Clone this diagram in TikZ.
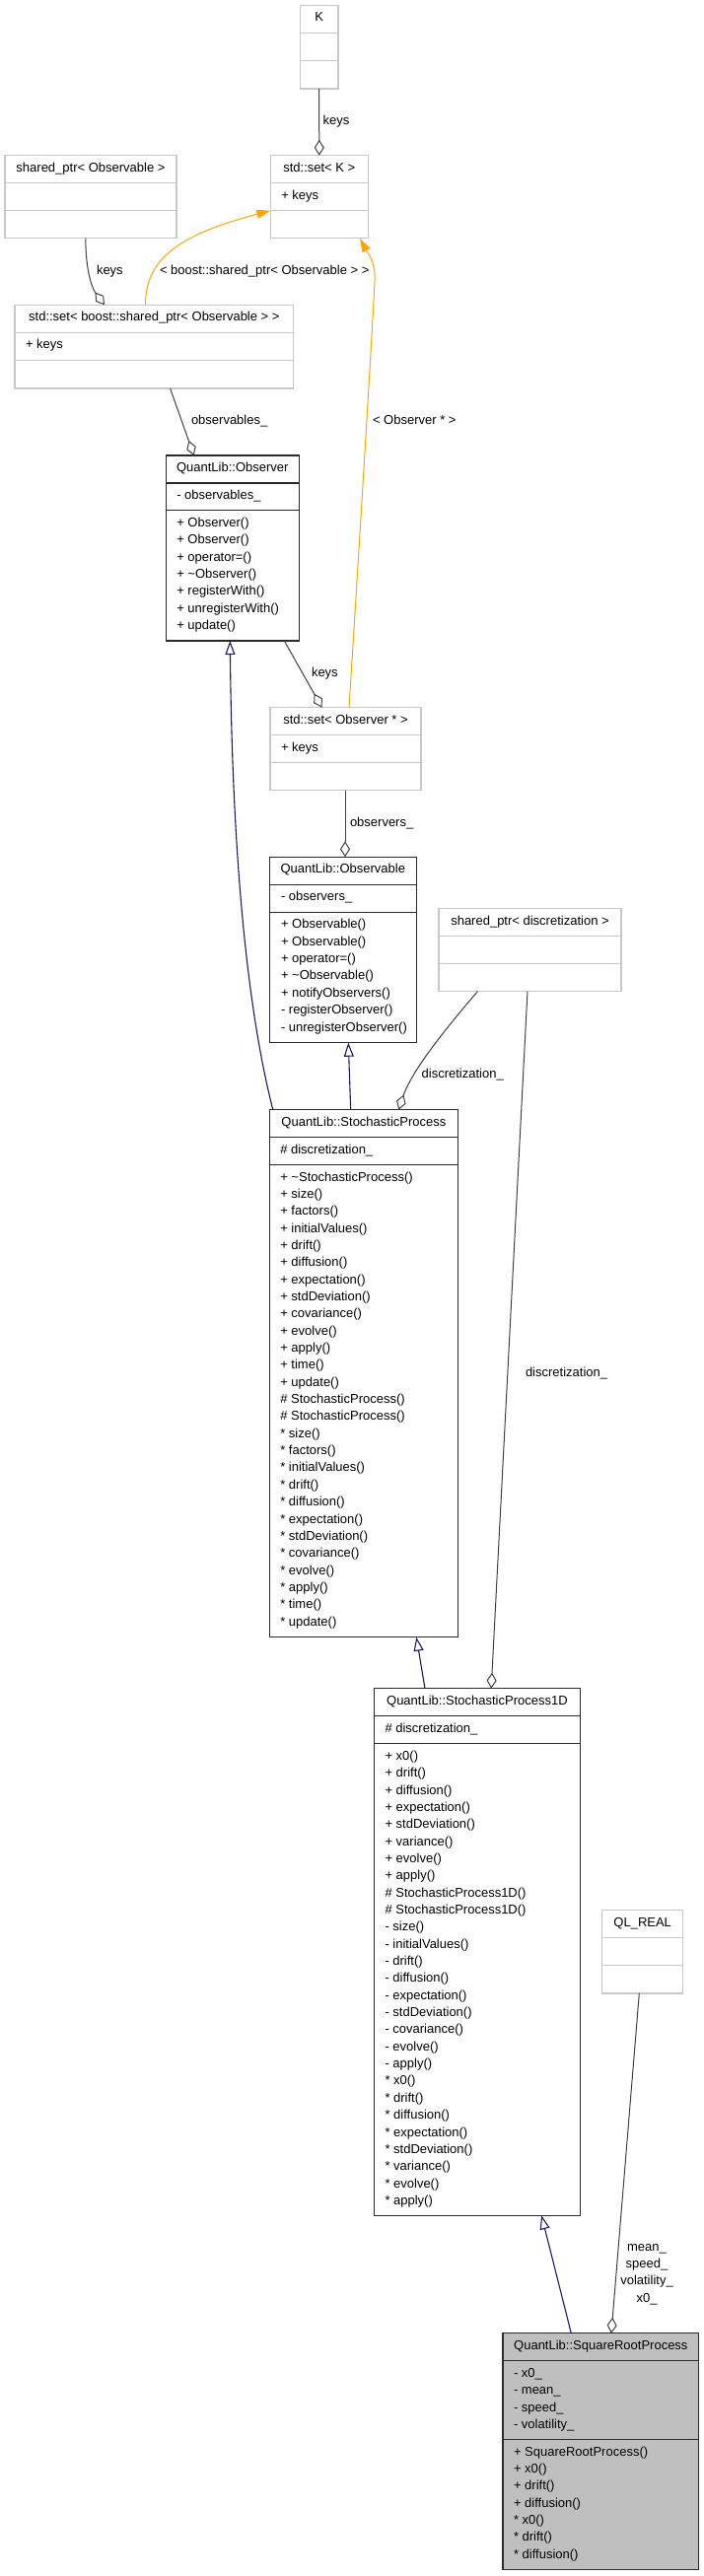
\documentclass[tikz,border=0pt]{standalone}
\usepackage{fontspec}
\setmainfont{Liberation Sans}
\usetikzlibrary{arrows.meta,calc}
\definecolor{boxgray}{HTML}{BFBFBF}
\definecolor{lightframe}{HTML}{C8C8C8}
\definecolor{edgegray}{HTML}{404040}
\definecolor{inhblue}{HTML}{191970}
\definecolor{tmplorange}{HTML}{FFA500}
\definecolor{framedark}{HTML}{2A2A2A}
\tikzset{
  txt/.style={inner sep=0pt, outer sep=0pt, font=\fontsize{13pt}{15pt}\selectfont, text=black},
  gbox/.style={draw=lightframe, line width=1.3pt, fill=white, inner sep=0pt, outer sep=0pt},
  gbox sep/.style={draw=lightframe, line width=1.3pt},
  kbox/.style={draw=framedark, line width=1.4pt, fill=white, inner sep=0pt, outer sep=0pt},
  kbox sep/.style={draw=framedark, line width=1.4pt},
  fillbox/.style={draw=framedark, line width=1.4pt, fill=boxgray, inner sep=0pt, outer sep=0pt},
  fillbox sep/.style={draw=framedark, line width=1.4pt},
  aggr/.style={draw=edgegray, line width=1pt, -{Diamond[fill=white, length=16pt, width=10pt]}},
  inh/.style={draw=inhblue, line width=1.1pt, -{Triangle[fill=white, length=14pt, width=10pt]}},
  tmpl/.style={draw=tmplorange, line width=1pt, -{Triangle[length=14pt, width=9pt]}},
  elabel/.style={txt, anchor=base west},
}
% name, style, x, y, width, attr height, method height, header
\newcommand\umlcls[8]{%
  \node[#2, anchor=north west, minimum width=#5pt, minimum height={(28+#6+#7)*1pt}] (#1) at (#3,#4) {};
  \draw[#2 sep] (#3,#4+28) -- (#3+#5,#4+28);
  \draw[#2 sep] (#3,#4+28+#6) -- (#3+#5,#4+28+#6);
  \node[txt, anchor=base] (#1-h) at ({#3+#5/2},{#4+16.6}) {#8};
}
% name prefix, x, first baseline y, list of lines
\newcommand\umllines[4]{%
  \foreach \mline [count=\mi] in {#4}{
    \node[txt, anchor=base west] (#1-\mi) at (#2,{#3+(\mi-1)*17.35}) {\mline};
  }
}
\begin{document}
\begin{tikzpicture}[x=1pt,y=-1pt]
\useasboundingbox (0,0) rectangle (713,2613);
\fill[white] (0,0) rectangle (713,2613);

% ---------- classes ----------
\umlcls{K}{gbox}{304.3}{5.3}{38.7}{28.3}{28.4}{K}

\umlcls{setK}{gbox}{274.3}{157.7}{99}{28}{28}{std::set< K >}
\umllines{setK-a}{285.3}{202.3}{+ keys}

\umlcls{spObs}{gbox}{5}{157.7}{174}{28}{28}{shared\_ptr< Observable >}

\umlcls{setSP}{gbox}{15}{309.3}{282.7}{28.3}{28.4}{std::set< boost::shared\_ptr< Observable > >}
\umllines{setSP-a}{26}{353.9}{+ keys}

\umlcls{Observer}{kbox}{168.3}{462}{135}{27.7}{132.3}{QuantLib::Observer}
\umllines{Observer-a}{179.3}{506.6}{- observables\_}
\umllines{Observer-m}{179.3}{534.3}{+ Observer(), + Observer(), + operator=(), + \textasciitilde Observer(), + registerWith(), + unregisterWith(), + update()}

\umlcls{setObs}{gbox}{274}{717.7}{153}{28}{28}{std::set< Observer * >}
\umllines{setObs-a}{285}{762.3}{+ keys}

\umlcls{Observable}{kbox}{273.3}{869.3}{149}{28}{132.4}{QuantLib::Observable}
\umllines{Observable-a}{285}{913.9}{- observers\_}
\umllines{Observable-m}{285}{941.9}{+ Observable(), + Observable(), + operator=(), + \textasciitilde Observable(), + notifyObservers(), - registerObserver(), - unregisterObserver()}

\umlcls{spDisc}{gbox}{445}{921.7}{185}{28}{28}{shared\_ptr< discretization >}

\umlcls{SP}{kbox}{273.3}{1125.7}{191.3}{27.7}{479.3}{QuantLib::StochasticProcess}
\umllines{SP-a}{284.3}{1170.3}{\# discretization\_}
\umllines{SP-m}{284.3}{1198}{+ \textasciitilde StochasticProcess(), + size(), + factors(), + initialValues(), + drift(), + diffusion(), + expectation(), + stdDeviation(), + covariance(), + evolve(), + apply(), + time(), + update(), \# StochasticProcess(), \# StochasticProcess(), * size(), * factors(), * initialValues(), * drift(), * diffusion(), * expectation(), * stdDeviation(), * covariance(), * evolve(), * apply(), * time(), * update()}

\umlcls{SP1D}{kbox}{379.2}{1712.7}{209.4}{28}{478.6}{QuantLib::StochasticProcess1D}
\umllines{SP1D-a}{390.5}{1757.3}{\# discretization\_}
\umllines{SP1D-m}{390.5}{1785.3}{+ x0(), + drift(), + diffusion(), + expectation(), + stdDeviation(), + variance(), + evolve(), + apply(), \# StochasticProcess1D(), \# StochasticProcess1D(), - size(), - initialValues(), - drift(), - diffusion(), - expectation(), - stdDeviation(), - covariance(), - evolve(), - apply(), * x0(), * drift(), * diffusion(), * expectation(), * stdDeviation(), * variance(), * evolve(), * apply()}

\umlcls{QLR}{gbox}{610.7}{1937.7}{82}{28}{28.3}{QL\_REAL}

\umlcls{SRP}{fillbox}{510}{2366.7}{198.7}{79.7}{132}{QuantLib::SquareRootProcess}
\umllines{SRP-a}{521}{2411.3}{- x0\_, - mean\_, - speed\_, - volatility\_}
\umllines{SRP-m}{521}{2491}{+ SquareRootProcess(), + x0(), + drift(), + diffusion(), * x0(), * drift(), * diffusion()}

% ---------- connectors ----------
\draw[aggr] (K.south) -- (setK.north);
\node[elabel] (lK) at (327.7,126.4) {keys};

\draw[aggr] ([xshift=81.8pt]spObs.south west) .. controls (87,282) and (96,296) .. ([xshift=91pt]setSP.north west);
\node[elabel] (lSpObs) at (98,278.7) {keys};

\draw[tmpl] ([xshift=132.5pt]setSP.north west) .. controls (147.5,262) and (182,238) .. ([yshift=28pt]setK.south west);
\node[elabel] (lBoost) at (162,278.7) {< boost::shared\_ptr< Observable > >};

\draw[aggr] ([xshift=157.6pt]setSP.south west) -- ([xshift=28.4pt]Observer.north west);
\node[elabel] (lObsv) at (194,430.7) {observables\_};

\draw[tmpl] ([xshift=80pt]setObs.north west) .. controls (364,560) and (378,330) .. (380,285) .. controls (381,265) and (372,255) .. ([xshift=90.7pt]setK.south west);
\node[elabel] (lObsPtr) at (378,430.7) {< Observer * >};

\draw[aggr] ([xshift=120pt]Observer.south west) -- ([xshift=52.5pt]setObs.north west);
\node[elabel] (lKeys2) at (316,686.4) {keys};

\draw[aggr] ([xshift=76pt]setObs.south west) -- ([xshift=76.7pt]Observable.north west);
\node[elabel] (lObservers) at (355,838.7) {observers\_};

\draw[inh] ([xshift=3.5pt]SP.north west) .. controls (255,1040) and (236,900) .. ([xshift=65pt]Observer.south west);
\draw[inh] ([xshift=82.4pt]SP.north west) -- ([xshift=80pt]Observable.south west);

\draw[aggr] ([xshift=39.3pt]spDisc.south west) .. controls (455,1040) and (418,1085) .. ([xshift=131pt]SP.north west);
\node[elabel] (lDisc1) at (427.7,1093.7) {discretization\_};

\draw[aggr] ([xshift=90pt]spDisc.south west) -- ([xshift=119pt]SP1D.north west);
\node[elabel] (lDisc2) at (533,1396) {discretization\_};

\draw[inh] ([xshift=51.8pt]SP1D.north west) -- ([xshift=149pt]SP.south west);
\draw[inh] ([xshift=69.3pt]SRP.north west) -- ([xshift=170pt]SP1D.south west);

\draw[aggr] ([xshift=37.6pt]QLR.south west) -- ([xshift=110pt]SRP.north west);
\node[txt, anchor=base] (lQ1) at (656,2283) {mean\_};
\node[txt, anchor=base] (lQ2) at (656,2300.4) {speed\_};
\node[txt, anchor=base] (lQ3) at (656,2317.8) {volatility\_};
\node[txt, anchor=base] (lQ4) at (656,2335.2) {x0\_};
\end{tikzpicture}
\end{document}
